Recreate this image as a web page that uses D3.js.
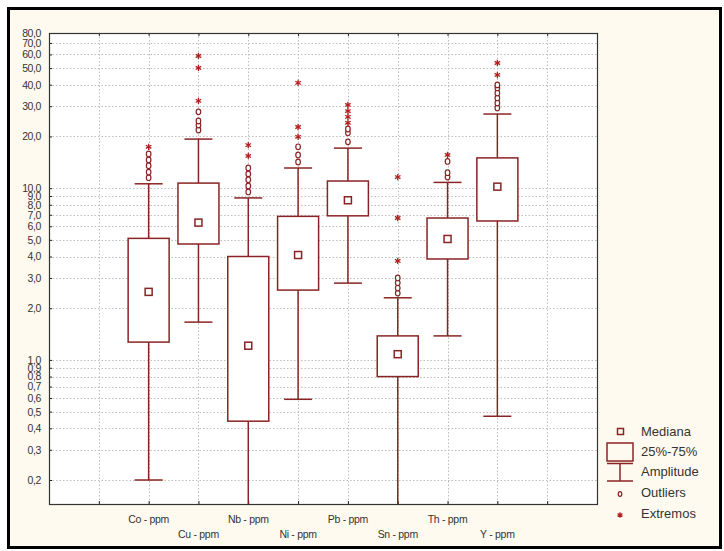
<!DOCTYPE html>
<html>
<head>
<meta charset="utf-8">
<script src="https://cdn.jsdelivr.net/npm/d3@7"></script>
<style>
  body { margin: 0; background: #fff; }
  text { font-family: 'Liberation Sans', Arial, sans-serif; fill: #333; }
</style>
</head>
<body>
<div class="chart"></div>
<script>
const categories = ['Co - ppm', 'Cu - ppm', 'Nb - ppm', 'Ni - ppm', 'Pb - ppm', 'Sn - ppm', 'Th - ppm', 'Y - ppm'];
const whiskerLow = [0.2, 1.66, 0.1, 0.59, 2.8, 0.1, 1.38, 0.47];
const q1 = [1.27, 4.73, 0.44, 2.55, 6.9, 0.8, 3.87, 6.44];
const medians = [2.49, 6.3, 1.21, 4.08, 8.5, 1.08, 5.06, 10.2];
const q3 = [5.1, 10.7, 4.0, 6.85, 11.0, 1.38, 6.7, 15.0];
const whiskerHigh = [10.6, 19.3, 8.77, 13.1, 17.1, 2.3, 10.8, 27.0];
const outliers = [
  [11.5, 12.4, 13.5, 14.6, 15.8],
  [21.8, 23.3, 24.6, 27.8],
  [9.5, 10.3, 11.2, 12.1, 13.1],
  [14.2, 15.6, 17.4],
  [18.6, 21.0, 22.1],
  [2.45, 2.62, 2.81, 3.0],
  [11.6, 12.3, 14.3],
  [29.3, 31.3, 33.5, 35.8, 38.3, 39.9]
];
const extremes = [
  [17.4],
  [32.2, 50.1, 58.8],
  [15.4, 17.8],
  [19.9, 22.7, 41.0],
  [24.0, 26.0, 28.1, 30.5],
  [3.77, 6.7, 11.6],
  [15.6],
  [45.6, 53.5]
];
const yTicks = [0.2, 0.3, 0.4, 0.5, 0.6, 0.7, 0.8, 0.9, 1, 2, 3, 4, 5, 6, 7, 8, 9, 10, 20, 30, 40, 50, 60, 70, 80];
const legendLabels = ['Mediana', '25%-75%', 'Amplitude', 'Outliers', 'Extremos'];

const width = 724, height = 551;
const plot = { left: 49, top: 33, right: 597, bottom: 504 };
const red = '#8a2424';

const svg = d3.select('.chart').append('svg')
  .attr('width', width)
  .attr('height', height);

// outer frame
svg.append('rect')
  .attr('x', 8.5).attr('y', 8.5)
  .attr('width', 712).attr('height', 539)
  .attr('fill', '#fffaef')
  .attr('stroke', '#000')
  .attr('stroke-width', 3);

const x = d3.scaleLinear().domain([0, 11]).range([plot.left, plot.right]);
const y = d3.scaleLog().domain([0.145, 80]).range([plot.bottom, plot.top]);

svg.append('defs').append('clipPath').attr('id', 'clip')
  .append('rect')
  .attr('x', plot.left).attr('y', plot.top)
  .attr('width', plot.right - plot.left).attr('height', plot.bottom - plot.top);

svg.append('rect')
  .attr('x', plot.left).attr('y', plot.top)
  .attr('width', plot.right - plot.left).attr('height', plot.bottom - plot.top)
  .attr('fill', '#fff');

// grid
const grid = svg.append('g')
  .attr('stroke', '#bdbdbd')
  .attr('stroke-dasharray', '1.5,2');
grid.selectAll('.hg').data(yTicks).enter().append('line')
  .attr('x1', plot.left).attr('x2', plot.right)
  .attr('y1', d => Math.round(y(d)) + 0.5).attr('y2', d => Math.round(y(d)) + 0.5);
grid.selectAll('.vg').data(d3.range(1, 11)).enter().append('line')
  .attr('y1', plot.top).attr('y2', plot.bottom)
  .attr('x1', d => Math.round(x(d)) + 0.5).attr('x2', d => Math.round(x(d)) + 0.5);

// axes
const yAxis = svg.append('g')
  .attr('transform', `translate(${plot.left},0)`)
  .call(d3.axisLeft(y).tickValues(yTicks).tickSize(-3).tickPadding(8)
    .tickFormat(d => d3.format('.1f')(d).replace('.', ',')));
yAxis.select('.domain').remove();
yAxis.selectAll('line').attr('stroke', '#222');
yAxis.selectAll('text')
  .attr('font-size', 10.5)
  .attr('letter-spacing', -0.4)
  .attr('fill', '#333')
  .attr('font-family', "'Liberation Sans', Arial, sans-serif");

const xb = svg.append('g')
  .attr('transform', `translate(0,${plot.bottom})`)
  .call(d3.axisBottom(x).tickValues(d3.range(1, 11)).tickSize(-3).tickFormat(''));
xb.select('.domain').remove();
xb.selectAll('line').attr('stroke', '#222');
const xt = svg.append('g')
  .attr('transform', `translate(0,${plot.top})`)
  .call(d3.axisTop(x).tickValues(d3.range(1, 11)).tickSize(-3).tickFormat(''));
xt.select('.domain').remove();
xt.selectAll('line').attr('stroke', '#222');

svg.append('g').selectAll('text')
  .data(categories).enter().append('text')
  .attr('x', (d, i) => x(i + 2))
  .attr('y', (d, i) => i % 2 === 0 ? 523 : 538)
  .attr('text-anchor', 'middle')
  .attr('font-size', 10.5)
  .attr('letter-spacing', -0.3)
  .text(d => d);

// boxes
const boxW = 41, capW = 28;
const boxes = svg.append('g')
  .attr('clip-path', 'url(#clip)')
  .attr('stroke', red)
  .attr('stroke-width', 1.5)
  .attr('fill', 'none');

categories.forEach((c, i) => {
  const cx = x(i + 2);
  const g = boxes.append('g');
  g.append('line').attr('x1', cx).attr('x2', cx).attr('y1', y(q3[i])).attr('y2', y(whiskerHigh[i]));
  g.append('line').attr('x1', cx).attr('x2', cx).attr('y1', y(q1[i])).attr('y2', y(whiskerLow[i]));
  g.append('line').attr('x1', cx - capW / 2).attr('x2', cx + capW / 2)
    .attr('y1', y(whiskerHigh[i])).attr('y2', y(whiskerHigh[i]));
  g.append('line').attr('x1', cx - capW / 2).attr('x2', cx + capW / 2)
    .attr('y1', y(whiskerLow[i])).attr('y2', y(whiskerLow[i]));
  g.append('rect')
    .attr('x', cx - boxW / 2).attr('y', y(q3[i]))
    .attr('width', boxW).attr('height', y(q1[i]) - y(q3[i]))
    .attr('fill', '#fff');
  g.append('rect')
    .attr('x', cx - 3.5).attr('y', y(medians[i]) - 3.5)
    .attr('width', 7).attr('height', 7)
    .attr('fill', '#fff');
  g.selectAll('ellipse').data(outliers[i]).enter().append('ellipse')
    .attr('cx', cx).attr('cy', d => y(d))
    .attr('rx', 2.3).attr('ry', 2.8)
    .attr('stroke-width', 1.2)
    .attr('fill', '#fff');
  g.selectAll('path').data(extremes[i]).enter().append('path')
    .attr('transform', d => `translate(${cx},${y(d)})`)
    .attr('d', d3.symbol(d3.symbolAsterisk, 28))
    .attr('stroke', '#b02020')
    .attr('stroke-width', 1.3);
});

svg.append('rect')
  .attr('x', plot.left + 0.5).attr('y', plot.top + 0.5)
  .attr('width', plot.right - plot.left).attr('height', plot.bottom - plot.top)
  .attr('fill', 'none')
  .attr('stroke', '#333')
  .attr('stroke-width', 1.2);

// legend
const lg = svg.append('g').attr('stroke', red).attr('fill', 'none').attr('stroke-width', 1.5);
lg.append('rect').attr('x', 617.5).attr('y', 428.5).attr('width', 6).attr('height', 6);
lg.append('rect').attr('x', 607).attr('y', 443).attr('width', 26).attr('height', 18);
lg.append('line').attr('x1', 607).attr('x2', 633).attr('y1', 463.5).attr('y2', 463.5);
lg.append('line').attr('x1', 620).attr('x2', 620).attr('y1', 463.5).attr('y2', 481);
lg.append('line').attr('x1', 607).attr('x2', 633).attr('y1', 481).attr('y2', 481);
lg.append('ellipse').attr('cx', 620).attr('cy', 494).attr('rx', 1.8).attr('ry', 2.3).attr('stroke-width', 1.2);
lg.append('path').attr('transform', 'translate(620,515)')
  .attr('d', d3.symbol(d3.symbolAsterisk, 22)).attr('stroke', '#b02020').attr('stroke-width', 1.3);

svg.append('g').selectAll('text')
  .data(legendLabels).enter().append('text')
  .attr('x', 641)
  .attr('y', (d, i) => [436, 456, 476, 497, 518][i])
  .attr('font-size', 13)
  .text(d => d);
</script>
</body>
</html>
